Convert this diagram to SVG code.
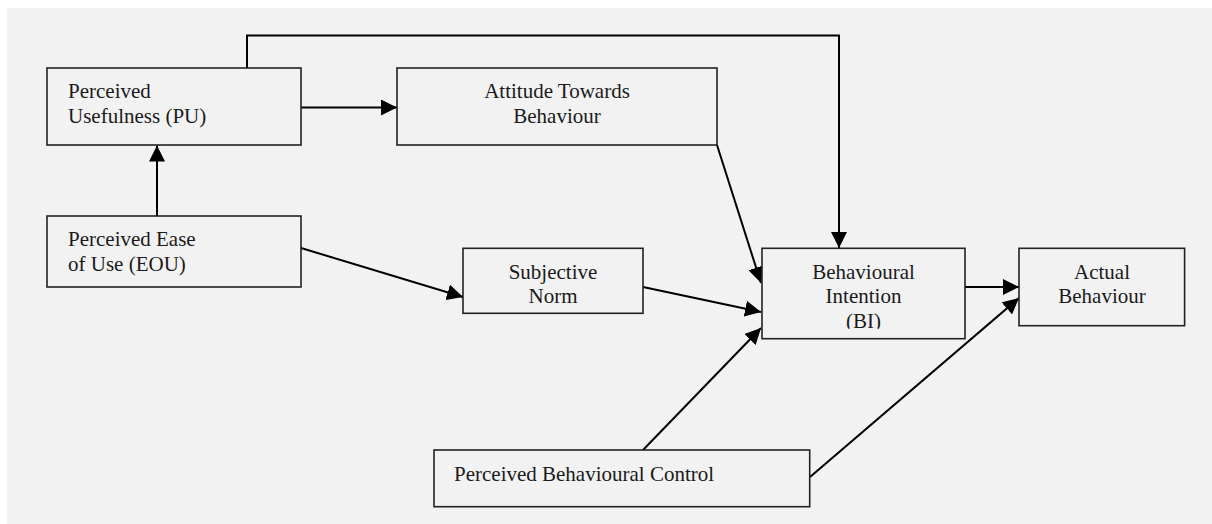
<svg xmlns="http://www.w3.org/2000/svg" width="1212" height="524" viewBox="0 0 1212 524">
<style>
.box{fill:#f2f2f2;stroke:#222;stroke-width:1.6}
.lbl{font-family:"Liberation Serif","Times New Roman",serif;font-size:21px;fill:#1a1a1a}
.c{text-anchor:middle}
.con{fill:none;stroke:#000;stroke-width:2}
</style>
<defs>
<marker id="arr" markerUnits="userSpaceOnUse" markerWidth="16" markerHeight="16" viewBox="0 0 15 15" refX="15" refY="7.5" orient="auto">
<path d="M0,0 L15,7.5 L0,15 z" fill="#000"/>
</marker>
<clipPath id="biclip"><rect x="762" y="248" width="203" height="80.8"/></clipPath>
</defs>
<rect x="7" y="8" width="1205" height="516" fill="#f2f2f2"/>
<g id="connectors">
<path class="con" d="M247,68 V35.5 H839 V248" marker-end="url(#arr)"/>
<path class="con" d="M301,107.5 H397" marker-end="url(#arr)"/>
<path class="con" d="M157,216 V145.5" marker-end="url(#arr)"/>
<path class="con" d="M301,248 L463,297" marker-end="url(#arr)"/>
<path class="con" d="M717,145 L761,283" marker-end="url(#arr)"/>
<path class="con" d="M643,287 L761,312" marker-end="url(#arr)"/>
<path class="con" d="M643,450 L761,328" marker-end="url(#arr)"/>
<path class="con" d="M965,287 H1019" marker-end="url(#arr)"/>
<path class="con" d="M810,477 L1019,298" marker-end="url(#arr)"/>
</g>
<g id="pu">
<rect class="box" x="47" y="68" width="254" height="77"/>
<text class="lbl" x="68" y="98">Perceived</text>
<text class="lbl" x="68" y="122.7">Usefulness (PU)</text>
</g>
<g id="attitude">
<rect class="box" x="397" y="68" width="320" height="77"/>
<text class="lbl c" x="557" y="98">Attitude Towards</text>
<text class="lbl c" x="557" y="122.7">Behaviour</text>
</g>
<g id="eou">
<rect class="box" x="47" y="216" width="254" height="71"/>
<text class="lbl" x="68" y="246">Perceived Ease</text>
<text class="lbl" x="68" y="270.7">of Use (EOU)</text>
</g>
<g id="subjective">
<rect class="box" x="463" y="248.3" width="180" height="65"/>
<text class="lbl c" x="553" y="279.3">Subjective</text>
<text class="lbl c" x="553" y="303.3">Norm</text>
</g>
<g id="bi">
<rect class="box" x="762" y="248.3" width="203" height="90.4"/>
<g clip-path="url(#biclip)">
<text class="lbl c" x="863.5" y="279">Behavioural</text>
<text class="lbl c" x="863.5" y="303.3">Intention</text>
<text class="lbl c" x="863.5" y="327.7">(BI)</text>
</g>
</g>
<g id="actual">
<rect class="box" x="1019" y="248.3" width="165.6" height="77.4"/>
<text class="lbl c" x="1102" y="279">Actual</text>
<text class="lbl c" x="1102" y="303.3">Behaviour</text>
</g>
<g id="pbc">
<rect class="box" x="434" y="450" width="375.7" height="56.7"/>
<text class="lbl" x="454" y="480.7">Perceived Behavioural Control</text>
</g>
</svg>
